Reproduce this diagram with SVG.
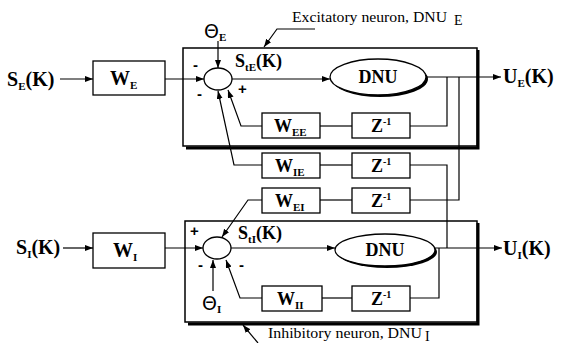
<svg xmlns="http://www.w3.org/2000/svg" width="574" height="343" viewBox="0 0 574 343">
<defs>
<marker id="ar" markerUnits="userSpaceOnUse" markerWidth="9" markerHeight="7" refX="8" refY="3" orient="auto">
<path d="M0,0 L8,3 L0,6 z" fill="#000"/>
</marker>
<style>
.ln{fill:none;stroke:#000;stroke-width:1.2}
.bx{fill:#fff;stroke:#000;stroke-width:1.3}
.big{fill:none;stroke:#000;stroke-width:1.5}
.sh{fill:none;stroke:#000;stroke-width:3}
.lb{font-family:"Liberation Serif","Times New Roman",serif;font-weight:bold;font-size:18px;fill:#000}
.io{font-size:20px}
.sb{font-size:11px}
.sp{font-size:10px}
.th{font-family:"DejaVu Sans","Liberation Sans",sans-serif;font-size:19px;fill:#000}
.cap{font-family:"Liberation Serif","Times New Roman",serif;font-size:14px;fill:#000}
.sg{font-family:"Liberation Sans",Arial,sans-serif;font-weight:bold;font-size:15px;fill:#000}
</style>
</defs>
<rect width="574" height="343" fill="#fff"/>

<g id="box-excitatory">
<path class="sh" d="M478,50 V148 H186"/>
<rect class="big" x="183" y="48" width="294" height="98"/>
</g>
<g id="box-inhibitory">
<path class="sh" d="M478,223 V324 H188"/>
<rect class="big" x="185" y="221" width="292" height="101"/>
</g>

<g id="connectors">
<line class="ln" x1="60" y1="79" x2="93" y2="79" marker-end="url(#ar)"/>
<line class="ln" x1="165" y1="79" x2="204" y2="79" marker-end="url(#ar)"/>
<line class="ln" x1="218" y1="41" x2="218" y2="68" marker-end="url(#ar)"/>
<line class="ln" x1="232" y1="79" x2="330" y2="79" marker-end="url(#ar)"/>
<line class="ln" x1="426" y1="77" x2="501" y2="77" marker-end="url(#ar)"/>
<path class="ln" d="M447,77 V126 H410"/>
<line class="ln" x1="352" y1="126" x2="320" y2="126"/>
<path class="ln" d="M262,126 H241 L228,90" marker-end="url(#ar)"/>
<path class="ln" d="M459,77 V200 H410"/>
<line class="ln" x1="352" y1="165" x2="320" y2="165"/>
<path class="ln" d="M410,165 H447 V248"/>
<path class="ln" d="M262,165 H234 L218,91" marker-end="url(#ar)"/>
<line class="ln" x1="352" y1="200" x2="320" y2="200"/>
<path class="ln" d="M262,200 H248 L222,237" marker-end="url(#ar)"/>
<line class="ln" x1="63" y1="248" x2="93" y2="248" marker-end="url(#ar)"/>
<line class="ln" x1="165" y1="248" x2="203" y2="248" marker-end="url(#ar)"/>
<line class="ln" x1="213" y1="291" x2="213" y2="260" marker-end="url(#ar)"/>
<line class="ln" x1="231" y1="248" x2="335" y2="248" marker-end="url(#ar)"/>
<line class="ln" x1="434" y1="248" x2="502" y2="248" marker-end="url(#ar)"/>
<path class="ln" d="M439,248 V298 H410"/>
<line class="ln" x1="352" y1="298" x2="322" y2="298"/>
<path class="ln" d="M262,298 H240 L226,260" marker-end="url(#ar)"/>
<path class="ln" d="M315,29 H277 L264,47" marker-end="url(#ar)"/>
<line class="ln" x1="258" y1="343" x2="243" y2="325" marker-end="url(#ar)"/>
</g>

<g id="input-SE"><text class="lb io" x="7" y="86">S<tspan class="sb" dy="4">E</tspan><tspan dy="-4">(K)</tspan></text></g>
<g id="WE"><rect class="bx" x="93" y="61" width="72" height="34"/><text class="lb io" x="110" y="85">W<tspan class="sb" dy="4">E</tspan></text></g>
<g id="sumE"><ellipse class="bx" cx="218" cy="79" rx="14" ry="11"/></g>
<g id="thetaE"><text class="th" x="204" y="38">Θ<tspan class="sb" dy="3" font-family="Liberation Serif" font-weight="bold">E</tspan></text></g>
<g id="signsE">
<text class="sg" x="193" y="70">-</text>
<text class="sg" x="197" y="99">-</text>
<text class="sg" x="238" y="94">+</text>
</g>
<g id="StE"><text class="lb" x="235" y="67">S<tspan class="sb" dy="4">tE</tspan><tspan dy="-4">(K)</tspan></text></g>
<g id="DNU-E">
<ellipse cx="380" cy="79" rx="48" ry="18" fill="#000"/>
<ellipse class="bx" cx="378" cy="77" rx="48" ry="18"/>
<text class="lb" x="378" y="83" text-anchor="middle">DNU</text>
</g>
<g id="UE"><text class="lb io" x="503" y="83">U<tspan class="sb" dy="4">E</tspan><tspan dy="-4">(K)</tspan></text></g>
<g id="WEE"><rect class="bx" x="262" y="113" width="58" height="25"/><text class="lb" x="274" y="132">W<tspan class="sb" dy="4">EE</tspan></text></g>
<g id="ZEE"><rect class="bx" x="352" y="113" width="58" height="25"/><text class="lb" x="371" y="132">Z<tspan class="sp" dy="-7">-1</tspan></text></g>
<g id="WIE"><rect class="bx" x="262" y="153" width="58" height="25"/><text class="lb" x="275" y="172">W<tspan class="sb" dy="4">IE</tspan></text></g>
<g id="ZIE"><rect class="bx" x="352" y="153" width="58" height="25"/><text class="lb" x="371" y="172">Z<tspan class="sp" dy="-7">-1</tspan></text></g>
<g id="WEI"><rect class="bx" x="262" y="188" width="58" height="25"/><text class="lb" x="275" y="207">W<tspan class="sb" dy="4">EI</tspan></text></g>
<g id="ZEI"><rect class="bx" x="352" y="188" width="58" height="25"/><text class="lb" x="371" y="207">Z<tspan class="sp" dy="-7">-1</tspan></text></g>

<g id="input-SI"><text class="lb io" x="16" y="254">S<tspan class="sb" dy="4">I</tspan><tspan dy="-4">(K)</tspan></text></g>
<g id="WI"><rect class="bx" x="93" y="233" width="72" height="35"/><text class="lb io" x="113" y="257">W<tspan class="sb" dy="4">I</tspan></text></g>
<g id="sumI"><ellipse class="bx" cx="217" cy="248" rx="14" ry="11"/></g>
<g id="thetaI"><text class="th" x="202" y="310">Θ<tspan class="sb" dy="3" font-family="Liberation Serif" font-weight="bold">I</tspan></text></g>
<g id="signsI">
<text class="sg" x="190" y="236">+</text>
<text class="sg" x="198" y="270">-</text>
<text class="sg" x="239" y="270">-</text>
</g>
<g id="StI"><text class="lb" x="238" y="239">S<tspan class="sb" dy="4">tI</tspan><tspan dy="-4">(K)</tspan></text></g>
<g id="DNU-I">
<ellipse cx="387" cy="252" rx="50" ry="16" fill="#000"/>
<ellipse class="bx" cx="385" cy="250" rx="50" ry="16"/>
<text class="lb" x="385" y="256" text-anchor="middle">DNU</text>
</g>
<g id="UI"><text class="lb io" x="503" y="255">U<tspan class="sb" dy="4">I</tspan><tspan dy="-4">(K)</tspan></text></g>
<g id="WII"><rect class="bx" x="262" y="286" width="60" height="25"/><text class="lb" x="277" y="305">W<tspan class="sb" dy="4">II</tspan></text></g>
<g id="ZII"><rect class="bx" x="352" y="286" width="58" height="25"/><text class="lb" x="371" y="305">Z<tspan class="sp" dy="-7">-1</tspan></text></g>

<g id="label-E"><text class="cap" x="292" y="22" textLength="155" lengthAdjust="spacingAndGlyphs">Excitatory neuron, DNU</text><text class="cap" x="454" y="25" font-size="8">E</text></g>
<g id="label-I"><text class="cap" x="268" y="338" textLength="154" lengthAdjust="spacingAndGlyphs">Inhibitory neuron, DNU</text><text class="cap" x="425" y="341" font-size="8">I</text></g>
</svg>
